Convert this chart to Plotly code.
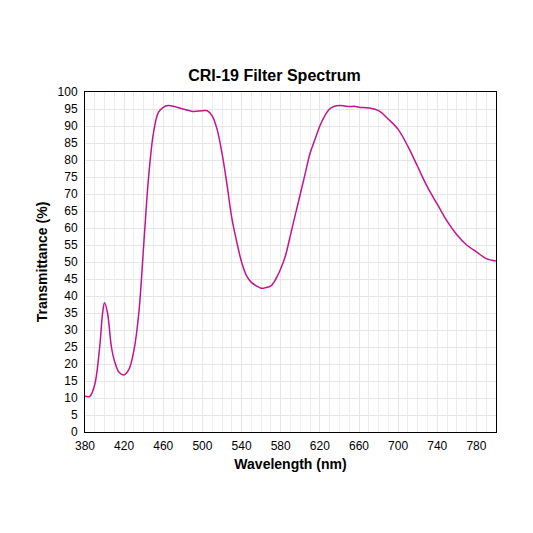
import plotly.graph_objects as go

wavelength = [380, 385, 390, 395, 398, 400, 403, 407, 410, 415, 420, 425, 430, 435, 440, 445, 450, 455,
              460, 465, 470, 480, 490, 500, 505, 510, 515, 520, 525, 530, 535, 540, 545, 550, 555,
              560, 565, 570, 575, 580, 585, 590, 595, 600, 605, 610, 615, 620, 625, 630, 635, 640,
              645, 650, 655, 660, 670, 680, 690, 700, 710, 720, 730, 740, 750, 760, 770, 780, 790, 800]
transmittance = [10.5, 10.5, 14, 25, 35, 38, 35, 25, 21, 17.5, 16.8, 18.5, 24, 35, 55, 75, 88, 94,
                 95.5, 96, 95.8, 95, 94.3, 94.5, 94.5, 93, 89, 82, 73, 63, 56, 50, 46, 44, 43,
                 42.3, 42.5, 43, 45, 48, 52, 58, 64, 70, 76, 82, 86, 90, 93, 95, 95.8, 96,
                 95.9, 95.7, 95.8, 95.5, 95.3, 94.5, 92, 89, 84, 78, 72, 67, 62, 58, 55, 53, 51, 50.3]

fig = go.Figure(go.Scatter(x=wavelength, y=transmittance, mode="lines",
                           line=dict(color="#c0168c", width=1.5, shape="spline")))

font = "Liberation Sans, Arial, sans-serif"
fig.update_layout(
    width=533, height=533,
    margin=dict(l=77, r=45, t=84, b=109),
    paper_bgcolor="white", plot_bgcolor="white",
    title=dict(text="<b>CRI-19 Filter Spectrum</b>", x=0.5, xanchor="center", y=0.873, yanchor="middle",
               font=dict(family=font, size=16, color="black")),
    font=dict(family=font, size=12, color="black"),
    showlegend=False,
)
fig.update_xaxes(range=[380, 800], tick0=380, dtick=40, showgrid=True, gridcolor="#e6e6e6",
                 minor=dict(dtick=10, showgrid=True, gridcolor="#ececec"),
                 showline=True, linecolor="black", mirror=True, ticks="outside", ticklen=3,
                 tickcolor="white", zeroline=False,
                 title=dict(text="<b>Wavelength (nm)</b>", font=dict(size=14), standoff=6))
fig.update_yaxes(range=[0, 100], dtick=5, showgrid=True, gridcolor="#e6e6e6",
                 showline=True, linecolor="black", mirror=True, ticks="outside", ticklen=4,
                 tickcolor="white", zeroline=False,
                 title=dict(text="<b>Transmittance (%)</b>", font=dict(size=14), standoff=6))

fig.write_html("out.html")
